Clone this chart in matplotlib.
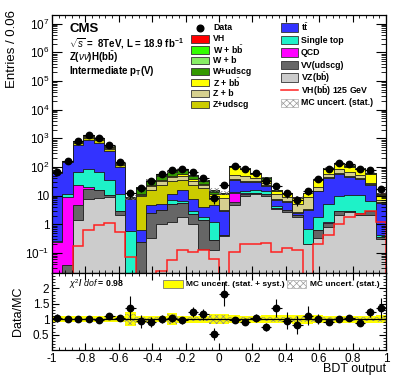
import numpy as np
import matplotlib
matplotlib.use('Agg')
import matplotlib.pyplot as plt
from matplotlib.patches import Rectangle
from matplotlib.lines import Line2D
from matplotlib.ticker import MultipleLocator, FixedLocator, FuncFormatter, LogLocator, NullFormatter

plt.rcParams['font.family'] = ['Liberation Sans', 'DejaVu Sans']
plt.rcParams['mathtext.fontset'] = 'custom'
plt.rcParams['mathtext.rm'] = 'Liberation Sans'
plt.rcParams['mathtext.it'] = 'Liberation Sans:italic'
plt.rcParams['mathtext.bf'] = 'Liberation Sans:bold'
plt.rcParams['axes.unicode_minus'] = False
plt.rcParams['hatch.linewidth'] = 0.5

# 32 bins of the BDT output, -1 .. 1
edges = np.linspace(-1, 1, 33)

# backgrounds, bottom of the stack first
vz_bb = [0.001, 0.002, 1.4, 7.9, 8.3, 9.0, 2.1, 0.001, 0.001, 0.32, 1.05, 1.2, 1.8, 1.05, 0.14, 0.13,
         0.4, 4.6, 9.5, 11.2, 10.0, 3.3, 2.7, 1.8, 0.2, 0.32, 0.81, 2.1, 2.6, 2.1, 2.1, 0.3]
vv_udscg = [0.003, 0.035, 3.2, 9.8, 7.2, 1.3, 0.7, 0.001, 0.24, 2.1, 2.05, 4.1, 3.8, 1.15, 1.26, 0.15,
            0.01, 1.4, 2.3, 1.2, 1.2, 0.5, 0.4, 0.3, 0.01, 0.3, 0.34, 0.7, 0.2, 0.3, 0.7, 0.05]
qcd = [0.24, 9.0, 18.0, 2.0, 0.5, 0.1, 0.01, 0.001, 0.001, 0.001, 0.001, 0.001, 0.001, 0.001, 0.001, 0.001,
       0.001, 6.4, 0.5, 0.1, 0.1, 0.01, 0.01, 0.01, 0.001, 0.01, 0.01, 0.01, 0.01, 0.01, 0.01, 0.01]
single_top = [0.02, 2.8, 44, 68, 51, 24.6, 9, 0.57, 0.001, 0.001, 0.001, 1.6, 0.8, 0.6, 0.4, 0.92,
              0.01, 0.5, 2.2, 3.0, 3.3, 0.5, 0.1, 0.05, 0.49, 1.2, 3.75, 7.0, 7.5, 7.9, 3.6, 0.05]
ttbar = [62, 135, 533, 760, 630, 330, 90, 6.9, 0.38, 2.2, 2.2, 4.9, 9.1, 4.7, 2.2, 3.7,
         2.6, 22, 15.5, 14.5, 7.4, 3.0, 2.9, 0.35, 2.4, 12.2, 35, 49, 35, 26.7, 16.6, 5.3]
z_udscg = [0.8, 4, 70, 170, 150, 60, 16, 0.5, 9, 11, 18, 20, 20, 16.5, 13.8, 3,
           0.2, 3, 3, 2, 1.5, 0.5, 0.3, 0.2, 0.4, 1, 3, 4, 3.7, 3, 1.5, 0.3]
z_b = [0.3, 2, 40, 80, 70, 30, 7, 0.2, 1.2, 6, 8, 12, 14, 9, 5, 2,
       5, 14, 14, 8, 4.5, 3.5, 2.5, 2.5, 5.5, 5, 12, 20, 16, 14, 3.5, 1]
z_bb = [0.5, 3, 45, 100, 80, 35, 8, 0.2, 0.8, 2.5, 4, 5, 6, 4, 3, 1.5,
        3, 50, 38, 15, 8, 3.2, 2.8, 2.8, 3, 14, 32, 44, 38.2, 29.8, 27.1, 3.3]
w_udscg = [0.6, 2, 20, 40, 30, 14, 4, 0.2, 5.5, 8, 14, 20, 22, 12, 6, 2.5,
           0.6, 3, 3, 1.5, 4, 0.3, 0.2, 0.15, 0.15, 1, 2.5, 4, 4, 3, 2, 0.4]
w_b = [0.2, 0.7, 8, 15, 10, 5, 1, 0.1, 0.8, 1.5, 2, 2.5, 3, 2, 1, 0.5,
       0.3, 1.5, 1.5, 0.8, 1, 0.2, 0.2, 0.1, 0.1, 0.5, 1.2, 2, 2, 1.5, 1, 0.2]
w_bb = [0.5, 1.3, 17, 35, 23, 9, 2, 0.13, 1.4, 2, 3.7, 3.7, 4.5, 3, 1.7, 1.0,
        0.5, 3.5, 3.5, 1.7, 2, 0.4, 0.3, 0.25, 0.25, 1.1, 2.3, 5, 5, 3.5, 2, 0.4]
vh = [0.004, 0.008, 0.18, 0.62, 0.92, 1.1, 0.54, 0.07, 0.015, 0.015, 0.023, 0.055, 0.13, 0.11, 0.13, 0.063,
      0.01, 0.11, 0.21, 0.2, 0.23, 0.11, 0.15, 0.13, 0.01, 0.2, 0.41, 1.05, 1.8, 2.2, 2.9, 1.2]

data = [67, 160, 800, 1290, 1040, 580, 144, 12, 18, 32, 55, 77, 82, 67, 40, 8,
        23, 108, 84, 62, 32, 21, 12, 7, 14, 37, 84, 139, 122, 82, 77, 17]

# relative MC uncertainties (stat only, stat + syst)
mc_stat = [0.04, 0.04, 0.04, 0.04, 0.04, 0.04, 0.05, 0.18, 0.06, 0.06, 0.06, 0.16, 0.06, 0.06, 0.07, 0.15,
           0.15, 0.07, 0.06, 0.06, 0.07, 0.08, 0.08, 0.09, 0.09, 0.08, 0.06, 0.06, 0.06, 0.06, 0.06, 0.08]
mc_total = [0.09, 0.09, 0.09, 0.09, 0.09, 0.09, 0.1, 0.22, 0.11, 0.1, 0.1, 0.2, 0.11, 0.11, 0.12, 0.17,
            0.17, 0.13, 0.12, 0.12, 0.13, 0.13, 0.13, 0.14, 0.14, 0.13, 0.12, 0.12, 0.12, 0.12, 0.12, 0.13]

chi2_dof = 0.98

stack = [
    (vz_bb, '#cccccc', r'VZ(b$\bar{\mathbf{b}}$)'),
    (vv_udscg, '#666666', 'VV(udscg)'),
    (qcd, '#ff00ff', 'QCD'),
    (single_top, '#1ef2c8', 'Single top'),
    (ttbar, '#3333ff', r't$\bar{\mathbf{t}}$'),
    (z_udscg, '#cccc00', 'Z+udscg'),
    (z_b, '#d6d08f', 'Z + b'),
    (z_bb, '#ffff00', r'Z + b$\bar{\mathbf{b}}$'),
    (w_udscg, '#339900', 'W+udscg'),
    (w_b, '#88ee66', 'W + b'),
    (w_bb, '#33ff00', r'W + b$\bar{\mathbf{b}}$'),
    (vh, '#ff0000', 'VH'),
]

W, H = 407, 391


def fxy(x, y):
    # pixel position in the picture -> figure fraction
    return x / W, 1 - y / H


fig = plt.figure(figsize=(W / 100, H / 100), dpi=100)
ax = fig.add_axes([52 / W, 1 - 273 / H, 334 / W, 258 / H])
rax = fig.add_axes([52 / W, 1 - 350 / H, 334 / W, 77 / H])

centers = 0.5 * (edges[1:] + edges[:-1])
width = edges[1] - edges[0]
cum = np.cumsum([np.array(s[0], dtype=float) for s in stack], axis=0)
mc = cum[-1]
data = np.array(data, dtype=float)

# stacked histograms, drawn from the top down so each outline stays visible
for i in reversed(range(len(stack))):
    ax.stairs(cum[i], edges, baseline=1e-4, fill=True, facecolor=stack[i][1],
              edgecolor='#1a1a1a', linewidth=0.6)

ax.stairs(vh, edges, baseline=1e-4, color='#ff2020', linewidth=1.1)

stat = np.array(mc_stat)
ax.bar(centers, 2 * stat * mc, bottom=mc * (1 - stat), width=width, fill=False,
       hatch='xxxxx', edgecolor='#777777', linewidth=0)

ax.errorbar(centers, data, yerr=np.sqrt(data), xerr=width / 2, fmt='o', color='black',
            ms=4.6, elinewidth=0.8, capsize=0)

ax.set_yscale('log')
ax.set_xlim(-1, 1)
ax.set_ylim(0.02, 2e7)
ax.yaxis.set_major_locator(LogLocator(base=10, numticks=20))
ax.yaxis.set_minor_locator(LogLocator(base=10, subs=np.arange(2, 10), numticks=200))
ax.yaxis.set_minor_formatter(NullFormatter())


def log_label(v, pos):
    n = int(round(np.log10(v)))
    if n == 0:
        return '1'
    if n == 1:
        return '10'
    return r'$10^{%d}$' % n


ax.yaxis.set_major_formatter(FuncFormatter(log_label))
ax.xaxis.set_major_locator(MultipleLocator(0.2))
ax.xaxis.set_minor_locator(MultipleLocator(0.04))
ax.xaxis.set_major_formatter(NullFormatter())
ax.tick_params(labelbottom=False)

# ratio panel
ratio = data / mc
ratio_err = np.sqrt(data) / mc
tot = np.array(mc_total)
rax.bar(centers, 2 * tot, bottom=1 - tot, width=width, color='#ffff00', linewidth=0)
rax.bar(centers, 2 * stat, bottom=1 - stat, width=width, fill=False, hatch='xxxxx',
        edgecolor='#888888', linewidth=0)
rax.axhline(1, color='black', lw=0.9)
rax.errorbar(centers, ratio, yerr=ratio_err, xerr=width / 2, fmt='o', color='black',
             ms=4.6, elinewidth=0.8, capsize=0)
rax.set_xlim(-1, 1)
rax.set_ylim(0, 2.5)
rax.yaxis.set_major_locator(FixedLocator([0.5, 1, 1.5, 2]))
rax.yaxis.set_minor_locator(MultipleLocator(0.1))
rax.yaxis.set_major_formatter(FuncFormatter(lambda v, p: '%g' % v))
rax.xaxis.set_major_locator(MultipleLocator(0.2))
rax.xaxis.set_minor_locator(MultipleLocator(0.04))
rax.xaxis.set_major_formatter(FuncFormatter(lambda v, p: '%g' % round(v, 2)))

for a in (ax, rax):
    a.tick_params(which='both', direction='in', top=True, right=True, labelsize=8.5, pad=2)
    a.tick_params(axis='x', which='major', length=5)
    a.tick_params(axis='x', which='minor', length=2.5)
    for s in a.spines.values():
        s.set_linewidth(0.9)
ax.tick_params(axis='y', which='major', length=7)
ax.tick_params(axis='y', which='minor', length=3.5)
rax.tick_params(axis='y', which='major', length=5)
rax.tick_params(axis='y', which='minor', length=2.5)

# axis titles
fig.text(*fxy(12, 10), 'Entries / 0.06', fontsize=9.5, rotation=90, ha='center', va='top')
fig.text(*fxy(18, 311), 'Data/MC', fontsize=9, rotation=90, ha='center', va='center')
fig.text(*fxy(386, 369), 'BDT output', fontsize=9, ha='right', va='center')

# header text
fig.text(*fxy(69, 29), 'CMS', fontsize=9.5, fontweight='bold', va='center')
fig.text(*fxy(69, 43.5), r'$\sqrt{s}$ =  8TeV, L = 18.9 fb$^{\mathbf{-1}}$', fontsize=7,
         fontweight='bold', va='center')
fig.text(*fxy(69, 57), r'Z($\nu\nu$)H(b$\bar{\mathbf{b}}$)', fontsize=7, fontweight='bold', va='center')
fig.text(*fxy(69, 71), r'Intermediate p$_{\mathbf{T}}$(V)', fontsize=7, fontweight='bold', va='center')


def legend_box(x, y, w, h, **kw):
    fig.add_artist(Rectangle(fxy(x, y + h / 2), w / W, h / H, transform=fig.transFigure, **kw))


def legend_text(x, y, label, size=6.3):
    fig.text(*fxy(x, y), label, fontsize=size, fontweight='bold', va='center')


# left legend column: data, signal and W/Z + jets
fig.add_artist(Line2D([199.5 / W], [1 - 28 / H], marker='o', color='black', ms=4.8,
                      transform=fig.transFigure))
legend_text(213, 28, 'Data')
col1 = [stack[11], stack[10], stack[9], stack[8], stack[7], stack[6], stack[5]]
for k, (vals, col, label) in enumerate(col1):
    y = 28 + 10.9 * (k + 1)
    legend_box(191, y, 17.5, 7.5, facecolor=col, edgecolor='#333333', linewidth=0.6)
    legend_text(213, y, label)

# right legend column
col2 = [stack[4], stack[3], stack[2], stack[1], stack[0]]
for k, (vals, col, label) in enumerate(col2):
    y = 27.5 + 12.55 * k
    legend_box(281, y, 16.5, 8.5, facecolor=col, edgecolor='#333333', linewidth=0.6)
    legend_text(301, y, label)
y = 27.5 + 12.55 * 5
fig.add_artist(Line2D([281 / W, 297.5 / W], [1 - y / H] * 2, color='#ff2020', lw=1.1,
                      transform=fig.transFigure))
legend_text(301, y, r'VH(b$\bar{\mathbf{b}}$) 125 GeV')
y = 27.5 + 12.55 * 6
legend_box(281, y, 16.5, 8.5, facecolor='white', edgecolor='#999999', hatch='xxxxx', linewidth=0.4)
legend_text(301, y, 'MC uncert. (stat.)')

# ratio panel legend
fig.text(*fxy(69, 284), r'$\chi^{2}$/ $\mathit{dof}$ = %.2f' % chi2_dof, fontsize=6.3,
         fontweight='bold', va='center')
legend_box(163, 284, 20, 7.5, facecolor='#ffff00', edgecolor='#777777', linewidth=0.6)
legend_text(186.5, 284, 'MC uncert. (stat. + syst.)', size=6)
legend_box(287, 284, 19, 7.5, facecolor='white', edgecolor='#999999', hatch='xxxxx', linewidth=0.4)
legend_text(310, 284, 'MC uncert. (stat.)', size=6)

fig.savefig('out.png', dpi=100)
